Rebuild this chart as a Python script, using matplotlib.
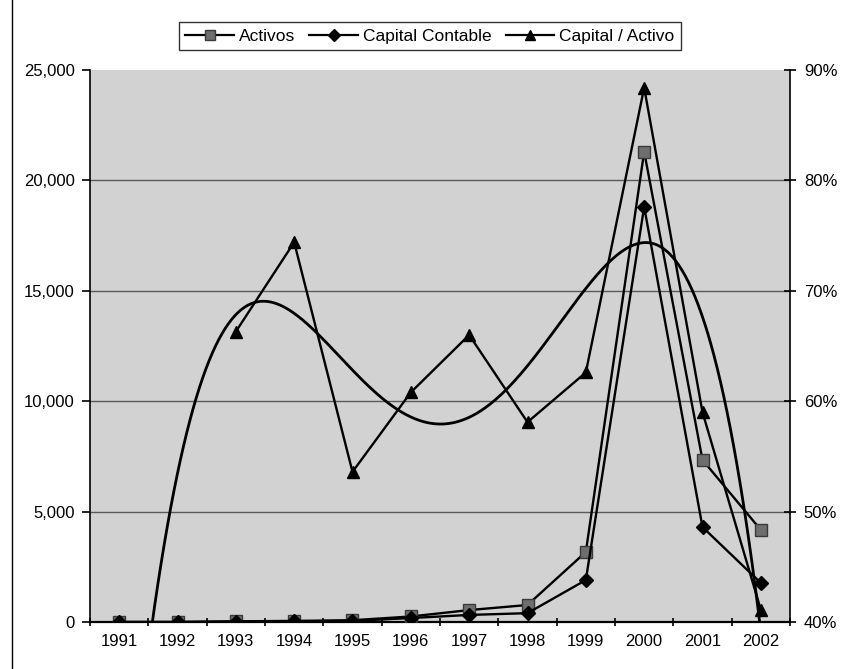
import numpy as np
import matplotlib
matplotlib.use("Agg")
import matplotlib.pyplot as plt
from matplotlib.ticker import FuncFormatter, FixedLocator
from matplotlib.lines import Line2D

plt.rcParams['font.family'] = ['Liberation Sans', 'DejaVu Sans']

# datos
years = ['1991', '1992', '1993', '1994', '1995', '1996', '1997', '1998', '1999', '2000', '2001', '2002']
activos = [0, 0, 30, 50, 80, 250, 540, 770, 3170, 21300, 7340, 4170]
capital_contable = [0, 0, 20, 30, 50, 180, 320, 400, 1900, 18800, 4300, 1770]
capital_activo = [None, None, 66.3, 74.4, 53.6, 60.8, 66.0, 58.1, 62.6, 88.4, 59.0, 41.1]  # en %

x = np.arange(1, len(years) + 1)

fig = plt.figure(figsize=(8.43, 6.69), dpi=100)
ax = fig.add_axes([90 / 843, 47 / 669, 700 / 843, 552 / 669])
ax.set_facecolor('#d2d2d2')

# lineas de cuadricula (eje izquierdo)
for v in [5000, 10000, 15000, 20000]:
    ax.axhline(v, color='#5a5a5a', lw=1.0, zorder=1)

ax.plot(x, activos, color='black', lw=1.7, marker='s', ms=9,
        mfc='#6e6e6e', mec='#3a3a3a', zorder=3)
ax.plot(x, capital_contable, color='black', lw=1.7, marker='D', ms=7.5,
        mfc='black', mec='black', zorder=3)

ax.set_xlim(0.5, len(years) + 0.5)
ax.set_ylim(0, 25000)
ax.set_yticks(np.arange(0, 25001, 5000))
ax.yaxis.set_major_formatter(FuncFormatter(lambda v, p: f'{int(v):,}'))
ax.set_xticks(x)
ax.set_xticklabels(years)
ax.xaxis.set_minor_locator(FixedLocator(np.arange(0.5, len(years) + 1, 1)))
ax.tick_params(axis='x', which='major', length=0, labelsize=12, pad=9)
ax.tick_params(axis='x', which='minor', length=6, width=1.2, direction='inout')
ax.tick_params(axis='y', length=6, width=1.2, direction='out', labelsize=12, pad=5)
for s in ['top', 'right']:
    ax.spines[s].set_visible(False)
ax.spines['left'].set_linewidth(1.2)
ax.spines['bottom'].set_linewidth(1.6)

# eje derecho: capital / activo
ax2 = ax.twinx()
ratio = np.array([np.nan if v is None else v for v in capital_activo], dtype=float)
ok = ~np.isnan(ratio)
ax2.plot(x[ok], ratio[ok], color='black', lw=1.7, marker='^', ms=9,
         mfc='black', mec='black', zorder=4)

# linea de tendencia polinomica (como la de Excel)
coef = np.polyfit(x[ok], ratio[ok], 4)
xt = np.linspace(1, len(years), 400)
ax2.plot(xt, np.polyval(coef, xt), color='black', lw=2.0, zorder=4)

ax2.set_ylim(40, 90)
ax2.set_yticks(np.arange(40, 91, 10))
ax2.yaxis.set_major_formatter(FuncFormatter(lambda v, p: f'{int(v)}%'))
ax2.tick_params(axis='y', length=8, width=1.2, direction='inout', labelsize=12, pad=6)
for s in ['top', 'left', 'bottom']:
    ax2.spines[s].set_visible(False)
ax2.spines['right'].set_linewidth(1.2)

handles = [
    Line2D([], [], color='black', lw=1.6, marker='s', ms=7, mfc='#6e6e6e', mec='#3a3a3a'),
    Line2D([], [], color='black', lw=1.6, marker='D', ms=6, mfc='black', mec='black'),
    Line2D([], [], color='black', lw=1.6, marker='^', ms=7, mfc='black', mec='black'),
]
leg = fig.legend(handles, ['Activos', 'Capital Contable', 'Capital / Activo'],
                 loc='center', bbox_to_anchor=(430 / 843, 1 - 36 / 669), ncol=3,
                 fontsize=12.5, frameon=True, fancybox=False, shadow=False,
                 handlelength=2.8, handletextpad=0.3, columnspacing=0.8,
                 borderpad=0.35, edgecolor='black')
leg.get_frame().set_linewidth(1.0)

# marco izquierdo del area del grafico
fig.add_artist(Line2D([12 / 843, 12 / 843], [0, 1], color='black', lw=1.0))

fig.savefig('out.png', dpi=100)
